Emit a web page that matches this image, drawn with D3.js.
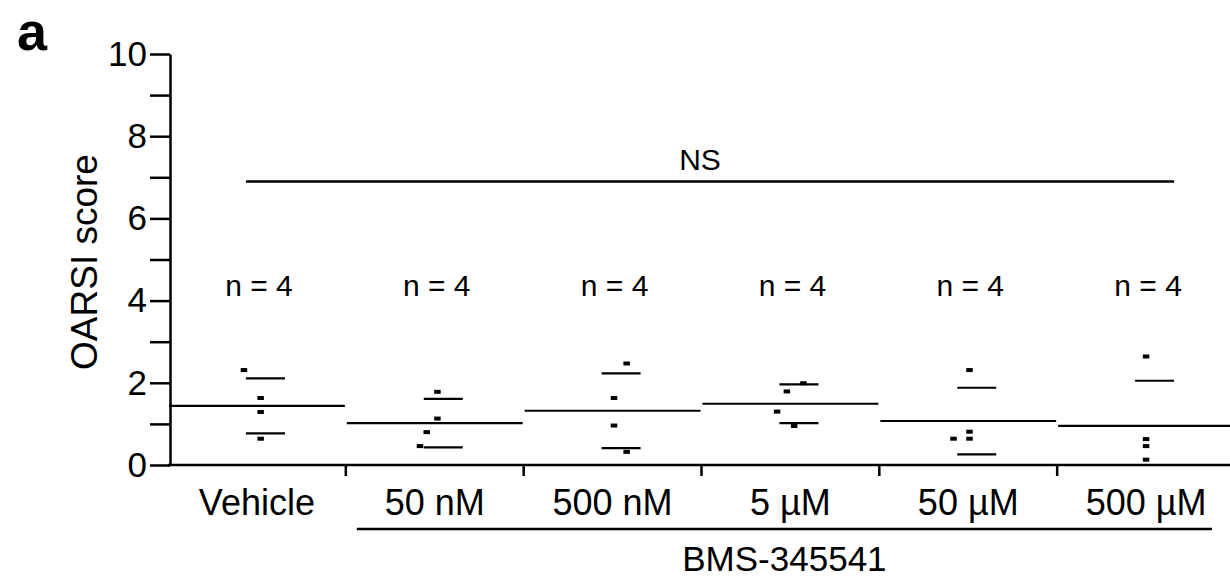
<!DOCTYPE html>
<html>
<head>
<meta charset="utf-8">
<script src="https://cdn.jsdelivr.net/npm/d3@7"></script>
<style>
  body { margin: 0; background: #fff; }
  text { font-family: "Liberation Sans", Arial, sans-serif; fill: #000; }
</style>
</head>
<body>
<div id="my_dataviz"></div>
<script>
// Groups on the x axis
const groups = ["Vehicle", "50 nM", "500 nM", "5 µM", "50 µM", "500 µM"];
const treatedLabel = "BMS-345541";
const nLabels = ["n = 4", "n = 4", "n = 4", "n = 4", "n = 4", "n = 4"];

// OARSI score of every animal, one array per group
const vehicleScores = [2.31, 1.63, 1.29, 0.64];
const nm50Scores = [1.78, 1.13, 0.80, 0.46];
const nm500Scores = [2.47, 1.63, 0.96, 0.32];
const um5Scores = [1.99, 1.79, 1.30, 0.95];
const um50Scores = [2.31, 0.81, 0.64, 0.64];
const um500Scores = [2.64, 0.63, 0.46, 0.13];

// horizontal scatter of the dots, as a fraction of the group width
const vehicleJitter = [-0.073, 0.021, 0.021, 0.021];
const nm50Jitter = [0.015, 0.015, -0.045, -0.083];
const nm500Jitter = [0.079, 0.008, 0.008, 0.079];
const um5Jitter = [0.073, -0.020, -0.075, 0.021];
const um50Jitter = [0.007, 0.007, 0.007, -0.083];
const um500Jitter = [0, 0, 0, 0];

// mean and SD drawn for each group
const means = [1.44, 1.02, 1.32, 1.49, 1.07, 0.95];
const sds = [0.67, 0.59, 0.91, 0.47, 0.81, 1.10];

// y ticks
const yTicks = [0, 1, 2, 3, 4, 5, 6, 7, 8, 9, 10];
const nsLevel = 6.9;

const width = 1230;
const height = 580;

const svg = d3
    .select("#my_dataviz")
    .append("svg")
    .attr("width", width)
    .attr("height", height);

const x = d3.scaleBand().domain(groups).range([168, 1235]);
const y = d3.scaleLinear().domain([0, 10]).range([465, 54]);
const bw = x.bandwidth();

const scores = [vehicleScores, nm50Scores, nm500Scores, um5Scores, um50Scores, um500Scores];
const jitters = [vehicleJitter, nm50Jitter, nm500Jitter, um5Jitter, um50Jitter, um500Jitter];

const points = [];
groups.forEach((g, i) => {
    scores[i].forEach((v, k) => {
        points.push({ group: g, value: v, jitter: jitters[i][k] });
    });
});

// panel letter
svg.append("text")
    .attr("x", 17)
    .attr("y", 50)
    .style("font-size", "54px")
    .style("font-weight", "bold")
    .text("a");

// y axis
const yAxis = svg
    .append("g")
    .attr("transform", "translate(170,0)")
    .call(
        d3.axisLeft(y)
            .tickValues(yTicks)
            .tickSize(20)
            .tickSizeOuter(0)
            .tickPadding(3)
            .tickFormat((d) => (d % 2 === 0 ? d : ""))
    );
yAxis.selectAll("path, line").style("stroke", "#000").style("stroke-width", 2.5);
yAxis.selectAll("text").style("font-size", "35px").style("font-family", "Liberation Sans, Arial, sans-serif");

svg.append("text")
    .attr("transform", "translate(97,262) rotate(-90)")
    .attr("text-anchor", "middle")
    .style("font-size", "37px")
    .text("OARSI score");

// x axis line and group separators
svg.append("line")
    .attr("x1", 168)
    .attr("x2", width)
    .attr("y1", y(0))
    .attr("y2", y(0))
    .style("stroke", "#000")
    .style("stroke-width", 2.5);

svg.selectAll(".sep")
    .data(groups.slice(1))
    .join("line")
    .attr("x1", (d) => x(d))
    .attr("x2", (d) => x(d))
    .attr("y1", y(0))
    .attr("y2", y(0) + 11)
    .style("stroke", "#000")
    .style("stroke-width", 2.5);

svg.selectAll(".cat")
    .data(groups)
    .join("text")
    .attr("x", (d) => x(d) + bw / 2)
    .attr("y", 515)
    .attr("text-anchor", "middle")
    .style("font-size", "36px")
    .text((d) => d);

// bracket under the treated groups
svg.append("line")
    .attr("x1", x(groups[1]) + 11)
    .attr("x2", x(groups[5]) + bw - 23)
    .attr("y1", 529)
    .attr("y2", 529)
    .style("stroke", "#000")
    .style("stroke-width", 2.5);

svg.append("text")
    .attr("x", (x(groups[1]) + 11 + x(groups[5]) + bw - 23) / 2)
    .attr("y", 571)
    .attr("text-anchor", "middle")
    .style("font-size", "35px")
    .text(treatedLabel);

// mean lines span the whole group
svg.selectAll(".mean")
    .data(groups)
    .join("line")
    .attr("x1", (d) => x(d) + 1)
    .attr("x2", (d) => x(d) + bw - 1)
    .attr("y1", (d, i) => y(means[i]))
    .attr("y2", (d, i) => y(means[i]))
    .style("stroke", "#000")
    .style("stroke-width", 2.2);

// SD lines
const sdLines = [];
groups.forEach((g, i) => {
    sdLines.push({ group: g, v: means[i] + sds[i] });
    if (means[i] - sds[i] >= 0) sdLines.push({ group: g, v: means[i] - sds[i] });
});

svg.selectAll(".sd")
    .data(sdLines)
    .join("line")
    .attr("x1", (d) => x(d.group) + bw / 2 - 11)
    .attr("x2", (d) => x(d.group) + bw / 2 + 28)
    .attr("y1", (d) => y(d.v))
    .attr("y2", (d) => y(d.v))
    .style("stroke", "#000")
    .style("stroke-width", 2.2);

// dots
svg.selectAll(".dot")
    .data(points)
    .join("rect")
    .attr("x", (d) => x(d.group) + bw / 2 + d.jitter * bw - 3.25)
    .attr("y", (d) => y(d.value) - 2)
    .attr("width", 6.5)
    .attr("height", 4)
    .style("fill", "#000");

// n labels
svg.selectAll(".nlab")
    .data(groups)
    .join("text")
    .attr("x", (d) => x(d) + bw / 2 + 2)
    .attr("y", 296)
    .attr("text-anchor", "middle")
    .style("font-size", "30px")
    .text((d, i) => nLabels[i]);

// NS comparison line
const nsX1 = x(groups[0]) + bw / 2 - 11;
const nsX2 = x(groups[5]) + bw / 2 + 28;
svg.append("line")
    .attr("x1", nsX1)
    .attr("x2", nsX2)
    .attr("y1", y(nsLevel))
    .attr("y2", y(nsLevel))
    .style("stroke", "#000")
    .style("stroke-width", 2.5);

svg.append("text")
    .attr("x", (nsX1 + nsX2) / 2 - 10)
    .attr("y", 170)
    .attr("text-anchor", "middle")
    .style("font-size", "30px")
    .text("NS");
</script>
</body>
</html>
